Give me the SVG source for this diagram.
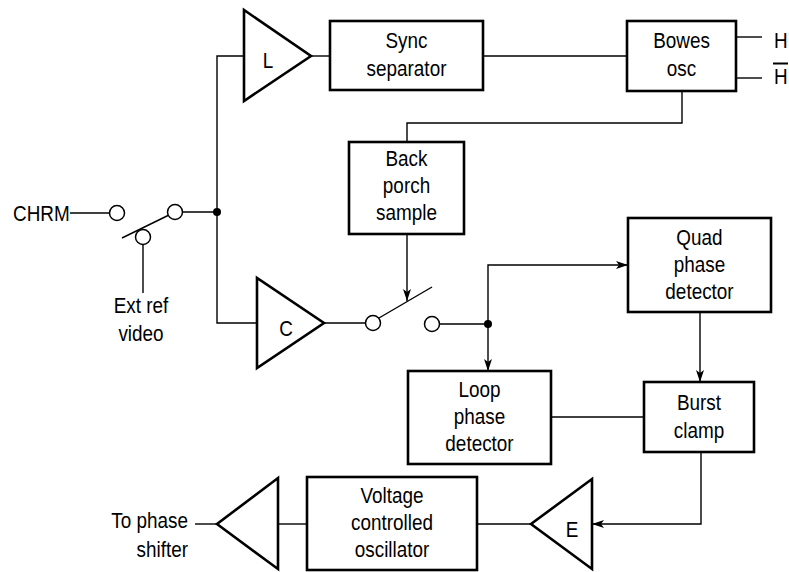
<svg xmlns="http://www.w3.org/2000/svg" width="789" height="572" viewBox="0 0 789 572">
<style>
.box{fill:#fff;stroke:#000;stroke-width:2.6}
.tri{fill:#fff;stroke:#000;stroke-width:2.6;stroke-linejoin:miter}
.w{fill:none;stroke:#000;stroke-width:1.4}
.c{fill:#fff;stroke:#000;stroke-width:1.5}
.dot{fill:#000}
text{font-family:"Liberation Sans",Arial,sans-serif;font-size:22px;fill:#000}
.m{text-anchor:middle}
.e{text-anchor:end}
</style>
<defs>
<marker id="ah" viewBox="0 0 12 8" refX="12" refY="4" markerWidth="12" markerHeight="8" markerUnits="userSpaceOnUse" orient="auto">
<path d="M0,0 L12,4 L0,8 L3,4 Z" fill="#000"/>
</marker>
</defs>
<rect width="789" height="572" fill="#fff"/>
<g id="connectors">
<polyline class="w" points="244,56 217,56 217,323 257,323"/>
<line class="w" x1="311" y1="56" x2="330" y2="56"/>
<line class="w" x1="483" y1="56" x2="627" y2="56"/>
<line class="w" x1="736" y1="37" x2="762" y2="37"/>
<line class="w" x1="736" y1="78" x2="762" y2="78"/>
<polyline class="w" points="682,91 682,123 407,123 407,142"/>
<line class="w" x1="70" y1="213" x2="109.5" y2="213"/>
<line class="w" x1="182.5" y1="212" x2="217" y2="212"/>
<line class="w" x1="122" y1="238" x2="169" y2="215"/>
<line class="w" x1="143" y1="244.5" x2="143" y2="293"/>
<line class="w" x1="324" y1="323" x2="365.5" y2="323"/>
<line class="w" x1="379" y1="318" x2="432" y2="287"/>
<line class="w" x1="407" y1="234" x2="407" y2="301" marker-end="url(#ah)"/>
<line class="w" x1="439.5" y1="324" x2="488" y2="324"/>
<polyline class="w" points="488,324 488,265 628,265" marker-end="url(#ah)"/>
<line class="w" x1="488" y1="324" x2="488" y2="371" marker-end="url(#ah)"/>
<line class="w" x1="700" y1="312" x2="700" y2="382" marker-end="url(#ah)"/>
<line class="w" x1="551" y1="417" x2="644" y2="417"/>
<polyline class="w" points="701,452 701,524 592,524" marker-end="url(#ah)"/>
<line class="w" x1="531" y1="524" x2="477" y2="524"/>
<line class="w" x1="307" y1="524" x2="278" y2="524"/>
<line class="w" x1="217" y1="524" x2="195" y2="524"/>
<circle class="dot" cx="217" cy="212" r="4"/>
<circle class="dot" cx="488" cy="324" r="4"/>
</g>
<g id="sw1-in"><circle class="c" cx="117" cy="213" r="7.5"/></g>
<g id="sw1-out"><circle class="c" cx="175" cy="212" r="7.5"/></g>
<g id="sw1-ext"><circle class="c" cx="143" cy="237" r="7.5"/></g>
<g id="sw2-in"><circle class="c" cx="373" cy="323" r="7.5"/></g>
<g id="sw2-out"><circle class="c" cx="432" cy="324" r="7.5"/></g>
<g id="chrm"><text transform="matrix(0.86 0 0 1 13 0)" x="0" y="221">CHRM</text></g>
<g id="extref"><text class="m" transform="matrix(0.86 0 0 1 141 0)" x="0" y="313">Ext ref</text><text class="m" transform="matrix(0.86 0 0 1 141 0)" x="0" y="341">video</text></g>
<g id="ampL"><polygon class="tri" points="244,10 244,101 311,56"/><text class="m" transform="matrix(0.86 0 0 1 268 0)" x="0" y="68">L</text></g>
<g id="ampC"><polygon class="tri" points="257,278 257,368 324,323"/><text class="m" transform="matrix(0.86 0 0 1 286 0)" x="0" y="336">C</text></g>
<g id="ampE"><polygon class="tri" points="592,479 592,569 531,524"/><text class="m" transform="matrix(0.86 0 0 1 572 0)" x="0" y="537">E</text></g>
<g id="ampOut"><polygon class="tri" points="278,478 278,569 217,524"/></g>
<g id="sync"><rect class="box" x="330" y="21" width="153" height="69"/><text class="m" transform="matrix(0.86 0 0 1 406.5 0)" x="0" y="48">Sync</text><text class="m" transform="matrix(0.86 0 0 1 406.5 0)" x="0" y="76">separator</text></g>
<g id="bowes"><rect class="box" x="627" y="21" width="109" height="70"/><text class="m" transform="matrix(0.86 0 0 1 681.5 0)" x="0" y="48">Bowes</text><text class="m" transform="matrix(0.86 0 0 1 681.5 0)" x="0" y="76">osc</text></g>
<g id="hout"><text transform="matrix(0.86 0 0 1 774 0)" x="0" y="48">H</text><text transform="matrix(0.86 0 0 1 774 0)" x="0" y="84">H</text><line x1="773" y1="63.5" x2="788" y2="63.5" stroke="#000" stroke-width="2"/></g>
<g id="backporch"><rect class="box" x="349" y="142" width="115" height="92"/><text class="m" transform="matrix(0.86 0 0 1 406.5 0)" x="0" y="166">Back</text><text class="m" transform="matrix(0.86 0 0 1 406.5 0)" x="0" y="193">porch</text><text class="m" transform="matrix(0.86 0 0 1 406.5 0)" x="0" y="220">sample</text></g>
<g id="quad"><rect class="box" x="628" y="218" width="143" height="94"/><text class="m" transform="matrix(0.86 0 0 1 699.5 0)" x="0" y="245">Quad</text><text class="m" transform="matrix(0.86 0 0 1 699.5 0)" x="0" y="272">phase</text><text class="m" transform="matrix(0.86 0 0 1 699.5 0)" x="0" y="299">detector</text></g>
<g id="loop"><rect class="box" x="408" y="371" width="143" height="93"/><text class="m" transform="matrix(0.86 0 0 1 479.5 0)" x="0" y="397">Loop</text><text class="m" transform="matrix(0.86 0 0 1 479.5 0)" x="0" y="424">phase</text><text class="m" transform="matrix(0.86 0 0 1 479.5 0)" x="0" y="451">detector</text></g>
<g id="burst"><rect class="box" x="644" y="382" width="110" height="70"/><text class="m" transform="matrix(0.86 0 0 1 699 0)" x="0" y="410">Burst</text><text class="m" transform="matrix(0.86 0 0 1 699 0)" x="0" y="438">clamp</text></g>
<g id="vco"><rect class="box" x="307" y="477" width="170" height="93"/><text class="m" transform="matrix(0.86 0 0 1 392 0)" x="0" y="503">Voltage</text><text class="m" transform="matrix(0.86 0 0 1 392 0)" x="0" y="530">controlled</text><text class="m" transform="matrix(0.86 0 0 1 392 0)" x="0" y="557">oscillator</text></g>
<g id="tophase"><text class="e" transform="matrix(0.86 0 0 1 188 0)" x="0" y="528">To phase</text><text class="e" transform="matrix(0.86 0 0 1 188 0)" x="0" y="557">shifter</text></g>
</svg>
